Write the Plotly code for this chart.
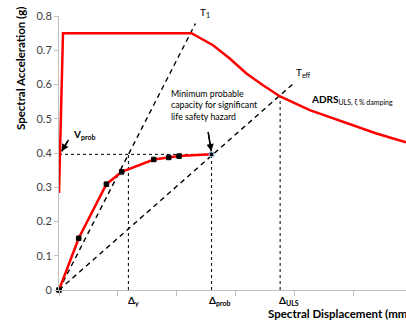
import plotly.graph_objects as go

# Capacity curve (spectral displacement, spectral acceleration in g)
cap_disp = [0, 0.335, 0.806, 1.066, 1.611, 1.866, 2.041, 2.594]
cap_acc = [0, 0.151, 0.309, 0.345, 0.381, 0.387, 0.391, 0.396]

# ADRS demand spectrum at ULS
adrs_disp = [0, 0.068, 2.252, 2.619, 2.903, 3.187, 3.469, 3.76, 4.264, 4.83, 5.398, 5.9]
adrs_acc = [0.283, 0.75, 0.75, 0.7145, 0.676, 0.632, 0.598, 0.565, 0.525, 0.491, 0.457, 0.431]

# Period lines through the origin
t1_disp = [0, 2.32]
t1_acc = [0, 0.778]
teff_disp = [0, 4.0]
teff_acc = [0, 0.605]

# Key points
v_prob = 0.396
d_y = 1.18
d_prob = 2.594
d_uls = 3.76
a_uls = 0.565

# Leader arrows: (tail_x, tail_y, head_x, head_y)
arrow_vprob = (0.16, 0.438, 0.045, 0.405)
arrow_cap = (2.535, 0.462, 2.59, 0.405)

FONT = "Lato"
fig = go.Figure()

dot = dict(color="black", width=1, dash="dot")
fig.add_trace(go.Scatter(x=[0, d_prob], y=[v_prob, v_prob], mode="lines", line=dot))
fig.add_trace(go.Scatter(x=[d_y, d_y], y=[0, v_prob], mode="lines", line=dot))
fig.add_trace(go.Scatter(x=[d_prob, d_prob], y=[0, v_prob], mode="lines", line=dot))
fig.add_trace(go.Scatter(x=[d_uls, d_uls], y=[0, a_uls], mode="lines", line=dot))

dash = dict(color="black", width=1.4, dash="5px,4px")
fig.add_trace(go.Scatter(x=t1_disp, y=t1_acc, mode="lines", line=dash))
fig.add_trace(go.Scatter(x=teff_disp, y=teff_acc, mode="lines", line=dash))

fig.add_trace(go.Scatter(x=adrs_disp, y=adrs_acc, mode="lines",
                         line=dict(color="#ff0000", width=2.5)))
fig.add_trace(go.Scatter(
    x=cap_disp, y=cap_acc, mode="lines+markers",
    line=dict(color="#ff0000", width=2.5),
    marker=dict(symbol="square", size=4.5, color="black",
                line=dict(color=["black"] * 7 + ["#9cc3e6"], width=1)),
    cliponaxis=False))

# Leader arrows drawn as short line traces
for tx, ty, hx, hy in (arrow_vprob, arrow_cap):
    fig.add_trace(go.Scatter(x=[tx, hx], y=[ty, hy], mode="lines",
                             line=dict(color="black", width=1.5)))

tick_font = dict(family=FONT, size=11, color="#404040")
fig.update_xaxes(range=[0, 5.9], showgrid=False, zeroline=False, showline=True,
                 linecolor="#bfbfbf", linewidth=1, ticks="outside", ticklen=5,
                 tickcolor="#bfbfbf", dtick=1, tick0=0, showticklabels=False)
fig.update_yaxes(range=[0, 0.8], showgrid=False, zeroline=False, showline=True,
                 linecolor="#bfbfbf", linewidth=1, ticks="outside", ticklen=4,
                 tickcolor="#bfbfbf", dtick=0.1, tickfont=tick_font)

ann = []
def text(x, y, t, size=10, xanchor="left", xref="x", yref="y", **kw):
    ann.append(dict(x=x, y=y, xref=xref, yref=yref, text=t, showarrow=False,
                    xanchor=xanchor, yanchor="middle",
                    font=dict(family=FONT, size=size, color="black"), **kw))

text(0.4207, 1.011, "T<sub>1</sub>", xanchor="center", xref="paper", yref="paper")
text(4.149, 0.634, "T<sub>eff</sub>", xanchor="center")
text(4.251, 0.555, "<b>ADRS</b><sub>ULS, ξ % damping</sub>")
text(0.204, 0.4526, "<b>V</b><sub><b>prob</b></sub>")
text(1.862, 0.540, "Minimum probable<br>capacity for significant<br>life safety hazard",
     size=8.8, align="left")

yb = -0.04
text(1.139, yb, "<b>Δ<sub>y</sub></b>", yref="paper")
text(2.511, yb, "<b>Δ<sub>prob</sub></b>", yref="paper")
text(3.70, yb, "<b>Δ<sub>ULS</sub></b>", yref="paper")

text(0.5965, -0.0858, "<b>Spectral Displacement (mm)</b>", size=11.5, xref="paper", yref="paper")
text(-0.1124, 0.81, "<b>Spectral Acceleration (g)</b>", size=11.5, xanchor="center",
     xref="paper", yref="paper", textangle=-90)

# Arrowheads at the leader ends
for tx, ty, hx, hy in (arrow_vprob, arrow_cap):
    ann.append(dict(x=hx, y=hy, xref="x", yref="y", ax=tx, ay=ty, axref="x", ayref="y",
                    text="", showarrow=True, arrowhead=2, arrowsize=1.2,
                    arrowwidth=1.2, arrowcolor="black"))

fig.update_layout(width=406, height=322, margin=dict(l=59, r=0, t=16, b=32),
                  showlegend=False, plot_bgcolor="white", paper_bgcolor="white",
                  annotations=ann, font=dict(family=FONT))
fig.write_html("out.html")
